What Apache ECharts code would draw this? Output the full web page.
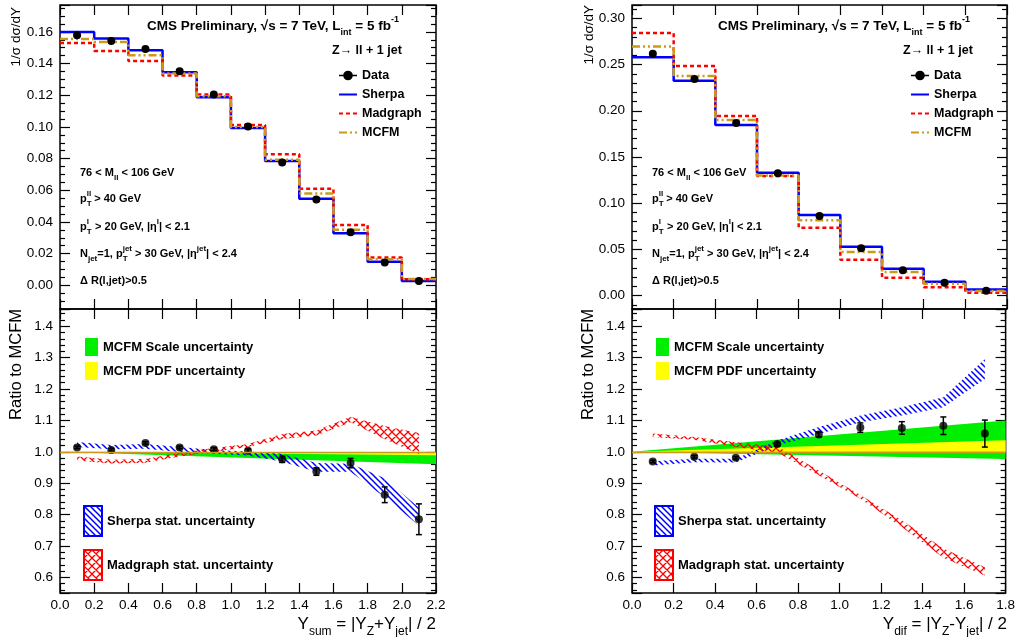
<!DOCTYPE html>
<html>
<head>
<meta charset="utf-8">
<title>Z + 1 jet rapidity distributions</title>
<script src="https://cdn.jsdelivr.net/npm/echarts@6.0.0/dist/echarts.min.js"></script>
<style>
  html, body { margin: 0; padding: 0; background: #fff; }
  #chart { width: 1018px; height: 637px; }
</style>
</head>
<body>
<div id="chart"></div>
<script>
const FONT = '"Liberation Sans", Arial, Helvetica, sans-serif';
const BLUE = '#0000ff';
const RED = '#ff0000';
const GOLD = '#cc9a1a';
const GREEN = '#00ee00';
const YELLOW = '#ffff00';

// ---- Y_sum = |Y_Z + Y_jet| / 2 ----
const ySumEdges = [0.0, 0.2, 0.4, 0.6, 0.8, 1.0, 1.2, 1.4, 1.6, 1.8, 2.0, 2.2];
const ySumCenters = [0.1, 0.3, 0.5, 0.7, 0.9, 1.1, 1.3, 1.5, 1.7, 1.9, 2.1];
const ySumData = [0.1579, 0.1543, 0.1492, 0.1351, 0.1204, 0.1002, 0.0775, 0.0542, 0.0335, 0.0143, 0.0027];
const ySumSherpa = [0.1600, 0.1558, 0.1484, 0.1345, 0.1187, 0.0993, 0.0784, 0.0546, 0.0329, 0.0148, 0.0027];
const ySumMadgraph = [0.1530, 0.1480, 0.1417, 0.1324, 0.1204, 0.1012, 0.0828, 0.0609, 0.0381, 0.0175, 0.0038];
const ySumMcfm = [0.1556, 0.1537, 0.1452, 0.1337, 0.1194, 0.1000, 0.0792, 0.0579, 0.0350, 0.0164, 0.0040];

const ySumRatio = [1.014, 1.006, 1.028, 1.014, 1.008, 1.003, 0.976, 0.937, 0.964, 0.863, 0.785];
const ySumRatioErr = [0.004, 0.004, 0.004, 0.004, 0.005, 0.006, 0.010, 0.012, 0.015, 0.025, 0.049];
const ySumSherpaLo = [1.015, 1.008, 1.010, 0.999, 0.994, 0.988, 0.968, 0.936, 0.936, 0.855, 0.765];
const ySumSherpaHi = [1.031, 1.022, 1.025, 1.015, 1.006, 1.001, 0.994, 0.964, 0.962, 0.916, 0.822];
const ySumMadLo = [0.972, 0.963, 0.965, 0.985, 1.000, 1.015, 1.041, 1.052, 1.094, 1.040, 0.993];
const ySumMadHi = [0.985, 0.975, 0.977, 0.997, 1.012, 1.025, 1.057, 1.068, 1.112, 1.082, 1.060];
const ySumBandX = [0.0, 2.2];
const ySumScaleLo = [1.0, 0.960];
const ySumScaleHi = [1.0, 0.997];
const ySumPdfLo = [1.0, 0.989];
const ySumPdfHi = [1.0, 0.997];

// ---- Y_dif = |Y_Z - Y_jet| / 2 ----
const yDifEdges = [0.0, 0.2, 0.4, 0.6, 0.8, 1.0, 1.2, 1.4, 1.6, 1.8];
const yDifCenters = [0.1, 0.3, 0.5, 0.7, 0.9, 1.1, 1.3, 1.5, 1.7];
const yDifData = [0.2618, 0.2344, 0.1868, 0.1324, 0.0862, 0.0512, 0.0275, 0.0141, 0.0054];
const yDifSherpa = [0.2580, 0.2326, 0.1846, 0.1331, 0.0873, 0.0530, 0.0292, 0.0151, 0.0068];
const yDifMadgraph = [0.2841, 0.2484, 0.1944, 0.1295, 0.0736, 0.0389, 0.0195, 0.0090, 0.0032];
const yDifMcfm = [0.2694, 0.2376, 0.1900, 0.1300, 0.0815, 0.0473, 0.0256, 0.0130, 0.0050];

const yDifRatio = [0.969, 0.984, 0.981, 1.025, 1.055, 1.077, 1.076, 1.083, 1.058];
const yDifRatioErr = [0.004, 0.004, 0.004, 0.006, 0.008, 0.015, 0.020, 0.028, 0.043];
const yDifSherpaLo = [0.956, 0.967, 0.966, 1.020, 1.057, 1.094, 1.116, 1.142, 1.232];
const yDifSherpaHi = [0.970, 0.978, 0.978, 1.036, 1.079, 1.116, 1.142, 1.174, 1.296];
const yDifMadLo = [1.047, 1.038, 1.015, 0.998, 0.925, 0.850, 0.760, 0.662, 0.606];
const yDifMadHi = [1.058, 1.047, 1.030, 1.018, 0.940, 0.862, 0.782, 0.692, 0.632];
const yDifBandX = [0.0, 1.8];
const yDifScaleLo = [1.0, 0.977];
const yDifScaleHi = [1.0, 1.100];
const yDifPdfLo = [1.0, 1.000];
const yDifPdfHi = [1.0, 1.037];

// histogram as a step line: one point per bin edge, last edge repeats last bin
function stepData(edges, vals) {
  return edges.map((e, i) => [e, vals[Math.min(i, vals.length - 1)]]);
}
function pairs(xs, ys) {
  return xs.map((x, i) => [x, ys[i]]);
}
function withErr(xs, ys, es) {
  return xs.map((x, i) => [x, ys[i], es[i]]);
}
// band as polygons between neighbouring points
function segments(xs, lo, hi) {
  const out = [];
  for (let i = 0; i < xs.length - 1; i++) {
    out.push([xs[i], lo[i], hi[i], xs[i + 1], lo[i + 1], hi[i + 1]]);
  }
  return out;
}

function hatch(color, size, cross, width) {
  const c = document.createElement('canvas');
  c.width = size;
  c.height = size;
  const g = c.getContext('2d');
  g.strokeStyle = color;
  g.lineWidth = width;
  g.beginPath();
  g.moveTo(-1, -1); g.lineTo(size + 1, size + 1);
  g.moveTo(-1, size - 1); g.lineTo(1, size + 1);
  g.moveTo(size - 1, -1); g.lineTo(size + 1, 1);
  if (cross) {
    g.moveTo(size + 1, -1); g.lineTo(-1, size + 1);
    g.moveTo(1, -1); g.lineTo(-1, 1);
    g.moveTo(size + 1, size - 1); g.lineTo(size - 1, size + 1);
  }
  g.stroke();
  return { image: c, repeat: 'repeat' };
}
const sherpaHatch = hatch(BLUE, 6, false, 1.5);
const madHatch = hatch(RED, 8, true, 1.3);

function bandRender(fill) {
  return function (params, api) {
    const pts = [
      api.coord([api.value(0), api.value(1)]),
      api.coord([api.value(3), api.value(4)]),
      api.coord([api.value(3), api.value(5)]),
      api.coord([api.value(0), api.value(2)])
    ];
    return { type: 'polygon', shape: { points: pts }, style: { fill: fill, stroke: null } };
  };
}
function errRender(params, api) {
  const x = api.value(0), y = api.value(1), e = api.value(2);
  const t = api.coord([x, y + e]);
  const b = api.coord([x, y - e]);
  const st = { stroke: '#000', lineWidth: 1.5 };
  return {
    type: 'group',
    children: [
      { type: 'line', shape: { x1: t[0], y1: t[1], x2: b[0], y2: b[1] }, style: st },
      { type: 'line', shape: { x1: t[0] - 3, y1: t[1], x2: t[0] + 3, y2: t[1] }, style: st },
      { type: 'line', shape: { x1: b[0] - 3, y1: b[1], x2: b[0] + 3, y2: b[1] }, style: st }
    ]
  };
}

function xAxisFor(grid, max, pos, withLabels) {
  return {
    type: 'value', gridIndex: grid, position: pos, min: 0, max: max, interval: 0.2,
    axisLine: { show: false, onZero: false },
    splitLine: { show: false },
    axisTick: { show: true, inside: true, length: 10, lineStyle: { color: '#000', width: 1.2 } },
    axisLabel: {
      show: withLabels, margin: 5, color: '#000', fontSize: 13.5, fontFamily: FONT,
      formatter: v => v.toFixed(1)
    }
  };
}
function yAxisFor(grid, min, max, major, minorSplit, pos, withLabels, digits) {
  return {
    type: 'value', gridIndex: grid, position: pos, min: min, max: max,
    minInterval: major, maxInterval: major, splitNumber: Math.round((max - min) / major),
    axisLine: { show: false, onZero: false },
    splitLine: { show: false },
    axisTick: { show: true, inside: true, length: 10, lineStyle: { color: '#000', width: 1.2 } },
    minorTick: { show: true, splitNumber: minorSplit, length: 5, lineStyle: { color: '#000', width: 1.2 } },
    minorSplitLine: { show: false },
    axisLabel: {
      show: withLabels, margin: 7, color: '#000', fontSize: 13.5, fontFamily: FONT,
      formatter: v => (Math.abs(v / major - Math.round(v / major)) < 1e-6 ? v.toFixed(digits) : '')
    }
  };
}

function richSet(size, weight) {
  const sub = Math.round(size * 0.7);
  const base = { fontFamily: FONT, fontWeight: weight, fill: '#000', color: '#000' };
  return {
    b: Object.assign({}, base, { fontSize: size, lineHeight: Math.round(size * 1.6), verticalAlign: 'middle' }),
    sub: Object.assign({}, base, { fontSize: sub, lineHeight: sub + 1, verticalAlign: 'bottom' }),
    subz: Object.assign({}, base, { fontSize: sub, lineHeight: sub + 1, verticalAlign: 'bottom', width: 0 }),
    sup: Object.assign({}, base, { fontSize: sub, lineHeight: sub + 1, verticalAlign: 'top' })
  };
}
function txt(x, y, text, size, weight, align, rotation) {
  return {
    type: 'text', x: x, y: y, rotation: rotation || 0, silent: true,
    style: {
      text: text, rich: richSet(size, weight),
      fontFamily: FONT, fontSize: size, fontWeight: weight, fill: '#000',
      align: align, verticalAlign: 'middle', textAlign: align, textVerticalAlign: 'middle'
    }
  };
}
function panelTexts(x0, frameRight) {
  return [
    txt(frameRight - 289, 26, '{b|CMS Preliminary, √s = 7 TeV, L}{sub|int}{b| = 5 fb}{sup|-1}', 13.5, 'bold', 'left'),
    txt(frameRight - 104, 51, '{b|Z→ ll + 1 jet}', 12.5, 'bold', 'left'),
    txt(x0, 173, '{b|76 < M}{sub|ll}{b| < 106 GeV}', 11, 'bold', 'left'),
    txt(x0, 199, '{b|p}{subz|T}{sup|ll}{b| > 40 GeV}', 11, 'bold', 'left'),
    txt(x0, 227, '{b|p}{subz|T}{sup|l}{b|  > 20 GeV, |η}{sup|l}{b|| < 2.1}', 11, 'bold', 'left'),
    txt(x0, 254, '{b|N}{sub|jet}{b|=1, p}{subz|T}{sup|jet}{b| > 30 GeV, |η}{sup|jet}{b|| < 2.4}', 11, 'bold', 'left'),
    txt(x0, 281, '{b|Δ R(l,jet)>0.5}', 11, 'bold', 'left')
  ];
}

const textStyle = { fontSize: 12.5, fontWeight: 'bold', color: '#000', fontFamily: FONT, lineHeight: 15 };
const noMarker = { opacity: 0, color: 'rgba(0,0,0,0)', borderWidth: 0 };
function lineLegend(left) {
  return {
    orient: 'vertical', left: left, top: 63, itemWidth: 18, itemHeight: 12, itemGap: 4,
    selectedMode: false, symbolKeepAspect: false, textStyle: textStyle,
    data: [
      { name: 'Data', lineStyle: { color: '#000', width: 1.5, opacity: 1, type: 'solid' } },
      { name: 'Sherpa', itemStyle: noMarker },
      { name: 'Madgraph', itemStyle: noMarker },
      { name: 'MCFM', itemStyle: noMarker }
    ]
  };
}
function bandLegendTop(left) {
  return {
    orient: 'vertical', left: left, top: 333, itemWidth: 13, itemHeight: 18, itemGap: 6,
    selectedMode: false, symbolKeepAspect: false,
    textStyle: Object.assign({}, textStyle, { fontSize: 13 }),
    data: [
      { name: 'MCFM Scale uncertainty', icon: 'rect', itemStyle: { color: GREEN, borderWidth: 0 } },
      { name: 'MCFM PDF uncertainty', icon: 'rect', itemStyle: { color: YELLOW, borderWidth: 0 } }
    ]
  };
}
function bandLegendBottom(left) {
  return {
    orient: 'vertical', left: left, top: 500, itemWidth: 18, itemHeight: 30, itemGap: 12,
    selectedMode: false, symbolKeepAspect: false,
    textStyle: Object.assign({}, textStyle, { fontSize: 13 }),
    data: [
      { name: 'Sherpa stat. uncertainty', icon: 'rect', itemStyle: { color: sherpaHatch, borderColor: BLUE, borderWidth: 2 } },
      { name: 'Madgraph stat. uncertainty', icon: 'rect', itemStyle: { color: madHatch, borderColor: RED, borderWidth: 2 } }
    ]
  };
}

function topSeries(ax, edges, centers, sherpa, mad, mcfm, data) {
  return [
    {
      name: 'Sherpa', type: 'line', xAxisIndex: ax, yAxisIndex: ax, step: 'end', symbol: 'none',
      data: stepData(edges, sherpa), lineStyle: { color: BLUE, width: 2.5 }, itemStyle: { color: BLUE }
    },
    {
      name: 'Madgraph', type: 'line', xAxisIndex: ax, yAxisIndex: ax, step: 'end', symbol: 'none',
      data: stepData(edges, mad), lineStyle: { color: RED, width: 2.5, type: [4, 3] }, itemStyle: { color: RED }
    },
    {
      name: 'MCFM', type: 'line', xAxisIndex: ax, yAxisIndex: ax, step: 'end', symbol: 'none',
      data: stepData(edges, mcfm), lineStyle: { color: GOLD, width: 2.5, type: [8, 3, 2, 3, 2, 3] }, itemStyle: { color: GOLD }
    },
    {
      name: 'Data', type: 'line', xAxisIndex: ax, yAxisIndex: ax, symbol: 'circle', symbolSize: 8,
      data: pairs(centers, data), lineStyle: { opacity: 0 }, itemStyle: { color: '#000' }
    }
  ];
}
function ratioSeries(ax, bandX, scLo, scHi, pdLo, pdHi, centers, shLo, shHi, mdLo, mdHi, ratio, err) {
  const enc = { x: [0, 3], y: [1, 2, 4, 5] };
  return [
    {
      name: 'MCFM Scale uncertainty', type: 'custom', xAxisIndex: ax, yAxisIndex: ax, clip: true,
      renderItem: bandRender(GREEN), encode: enc, data: segments(bandX, scLo, scHi), itemStyle: { color: GREEN }
    },
    {
      name: 'MCFM PDF uncertainty', type: 'custom', xAxisIndex: ax, yAxisIndex: ax, clip: true,
      renderItem: bandRender(YELLOW), encode: enc, data: segments(bandX, pdLo, pdHi), itemStyle: { color: YELLOW }
    },
    {
      name: 'Sherpa stat. uncertainty', type: 'custom', xAxisIndex: ax, yAxisIndex: ax, clip: true,
      renderItem: bandRender(sherpaHatch), encode: enc, data: segments(centers, shLo, shHi), itemStyle: { color: BLUE }
    },
    {
      name: 'Madgraph stat. uncertainty', type: 'custom', xAxisIndex: ax, yAxisIndex: ax, clip: true,
      renderItem: bandRender(madHatch), encode: enc, data: segments(centers, mdLo, mdHi), itemStyle: { color: RED }
    },
    {
      type: 'custom', xAxisIndex: ax, yAxisIndex: ax, renderItem: errRender,
      encode: { x: 0, y: [1, 2] }, data: withErr(centers, ratio, err)
    },
    {
      type: 'scatter', xAxisIndex: ax, yAxisIndex: ax, symbol: 'circle', symbolSize: 8,
      data: pairs(centers, ratio), itemStyle: { color: '#000' },
      markLine: {
        silent: true, symbol: 'none', label: { show: false },
        lineStyle: { color: GOLD, width: 1.3, type: 'solid' },
        data: [{ yAxis: 1 }]
      }
    }
  ];
}

const chart = echarts.init(document.getElementById('chart'), null, { renderer: 'canvas' });
const frame = { show: true, borderColor: '#000', borderWidth: 1.5, backgroundColor: 'transparent' };

chart.setOption({
  animation: false,
  backgroundColor: '#fff',
  grid: [
    Object.assign({ left: 60, top: 5, width: 376, height: 304 }, frame),
    Object.assign({ left: 60, top: 309, width: 376, height: 284 }, frame),
    Object.assign({ left: 632, top: 5, width: 375, height: 304 }, frame),
    Object.assign({ left: 632, top: 309, width: 375, height: 284 }, frame)
  ],
  xAxis: [
    xAxisFor(0, 2.2, 'bottom', false), xAxisFor(0, 2.2, 'top', false),
    xAxisFor(1, 2.2, 'bottom', true), xAxisFor(1, 2.2, 'top', false),
    xAxisFor(2, 1.8, 'bottom', false), xAxisFor(2, 1.8, 'top', false),
    xAxisFor(3, 1.8, 'bottom', true), xAxisFor(3, 1.8, 'top', false)
  ],
  yAxis: [
    yAxisFor(0, -0.015, 0.177, 0.02, 4, 'left', true, 2), yAxisFor(0, -0.015, 0.177, 0.02, 4, 'right', false, 2),
    yAxisFor(1, 0.55, 1.455, 0.1, 5, 'left', true, 1), yAxisFor(1, 0.55, 1.455, 0.1, 5, 'right', false, 1),
    yAxisFor(2, -0.0144, 0.3144, 0.05, 5, 'left', true, 2), yAxisFor(2, -0.0144, 0.3144, 0.05, 5, 'right', false, 2),
    yAxisFor(3, 0.55, 1.455, 0.1, 5, 'left', true, 1), yAxisFor(3, 0.55, 1.455, 0.1, 5, 'right', false, 1)
  ],
  legend: [
    lineLegend(333), lineLegend(905),
    bandLegendTop(80), bandLegendTop(651),
    bandLegendBottom(78), bandLegendBottom(649)
  ],
  graphic: [].concat(
    panelTexts(80, 436),
    panelTexts(652, 1007),
    [
      txt(16, 7, '1/σ dσ/dY', 13.5, 'normal', 'right', Math.PI / 2),
      txt(589, 5, '1/σ dσ/dY', 13.5, 'normal', 'right', Math.PI / 2),
      txt(16, 309, 'Ratio to MCFM', 16.5, 'normal', 'right', Math.PI / 2),
      txt(588, 309, 'Ratio to MCFM', 16.5, 'normal', 'right', Math.PI / 2),
      txt(436, 624, '{b|Y}{sub|sum}{b| = |Y}{sub|Z}{b|+Y}{sub|jet}{b|| / 2}', 17, 'normal', 'right'),
      txt(1007, 624, '{b|Y}{sub|dif}{b| = |Y}{sub|Z}{b|-Y}{sub|jet}{b|| / 2}', 17, 'normal', 'right')
    ]
  ),
  series: [].concat(
    topSeries(0, ySumEdges, ySumCenters, ySumSherpa, ySumMadgraph, ySumMcfm, ySumData),
    ratioSeries(2, ySumBandX, ySumScaleLo, ySumScaleHi, ySumPdfLo, ySumPdfHi,
      ySumCenters, ySumSherpaLo, ySumSherpaHi, ySumMadLo, ySumMadHi, ySumRatio, ySumRatioErr),
    topSeries(4, yDifEdges, yDifCenters, yDifSherpa, yDifMadgraph, yDifMcfm, yDifData),
    ratioSeries(6, yDifBandX, yDifScaleLo, yDifScaleHi, yDifPdfLo, yDifPdfHi,
      yDifCenters, yDifSherpaLo, yDifSherpaHi, yDifMadLo, yDifMadHi, yDifRatio, yDifRatioErr)
  )
});
</script>
</body>
</html>
